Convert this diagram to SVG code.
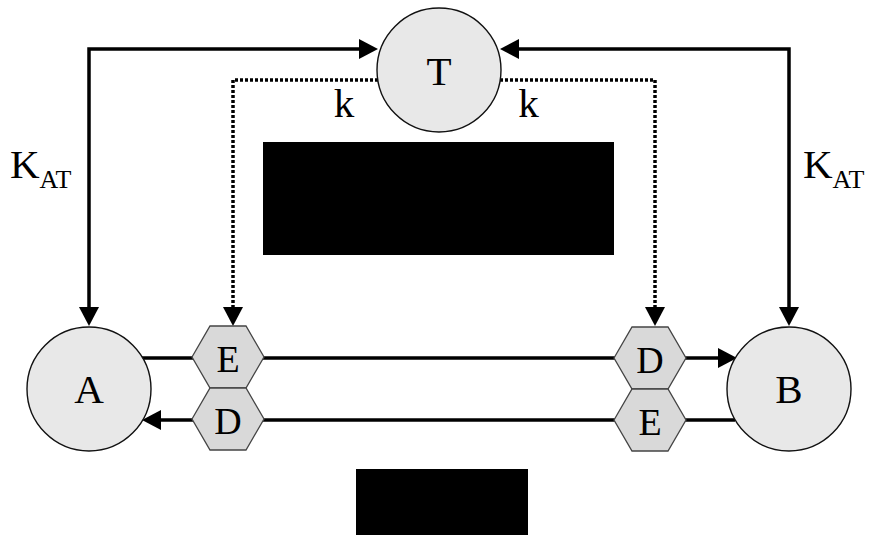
<svg xmlns="http://www.w3.org/2000/svg" width="871" height="535" viewBox="0 0 871 535">
  <style>
    .circ { fill: #e8e8e8; stroke: #111; stroke-width: 1.4; }
    .hex { fill: #d9d9d9; stroke: #444; stroke-width: 1.3; }
    .lbl { font-family: "Liberation Serif", "Times New Roman", serif; fill: #000; text-anchor: middle; }
    .big { font-size: 41px; }
    .mid { font-size: 38px; }
    .sub { font-size: 26px; }
    .solid { fill: none; stroke: #000; stroke-width: 3.5; }
    .dotted { fill: none; stroke: #000; stroke-width: 3.5; stroke-dasharray: 3 2; }
  </style>
  <defs>
    <marker id="arrow" viewBox="0 0 19 20" refX="0" refY="10" markerWidth="19" markerHeight="20" markerUnits="userSpaceOnUse" orient="auto-start-reverse">
      <path d="M0,0 L19,10 L0,20 z" fill="#000"/>
    </marker>
  </defs>
  <rect width="871" height="535" fill="#fff"/>

  <!-- connectors -->
  <g id="connectors">
    <path class="solid" d="M 359,49 H 89 V 307" marker-start="url(#arrow)" marker-end="url(#arrow)"/>
    <path class="solid" d="M 519,49 H 789 V 307" marker-start="url(#arrow)" marker-end="url(#arrow)"/>
    <path class="dotted" d="M 378,80 H 233 V 307" marker-end="url(#arrow)"/>
    <path class="dotted" d="M 500,80 H 655 V 307" marker-end="url(#arrow)"/>
    <path class="solid" d="M 142,358 H 718" marker-end="url(#arrow)"/>
    <path class="solid" d="M 735,420 H 161" marker-end="url(#arrow)"/>
  </g>

  <!-- rate labels -->
  <g id="labels">
    <text class="lbl big" x="10" y="178" style="text-anchor:start">K<tspan class="sub" dy="9.5">AT</tspan></text>
    <text class="lbl big" x="803" y="178" style="text-anchor:start">K<tspan class="sub" dy="9.5">AT</tspan></text>
    <text class="lbl big" x="344" y="116.5">k</text>
    <text class="lbl big" x="528.5" y="116.5">k</text>
  </g>

  <!-- masked blocks -->
  <rect x="263" y="142" width="351" height="113" fill="#000"/>
  <rect x="356" y="469" width="172" height="66" fill="#000"/>

  <g id="node-T">
    <circle class="circ" cx="439" cy="70" r="62"/>
    <text class="lbl big" x="439" y="85">T</text>
  </g>
  <g id="node-A">
    <circle class="circ" cx="89" cy="389" r="62"/>
    <text class="lbl big" x="89" y="403">A</text>
  </g>
  <g id="node-B">
    <circle class="circ" cx="789" cy="389" r="62"/>
    <text class="lbl big" x="789" y="403">B</text>
  </g>

  <g id="node-EA">
    <polygon class="hex" points="192,357 210,326 246,326 264,357 246,388 210,388"/>
    <text class="lbl mid" x="228" y="371.5">E</text>
  </g>
  <g id="node-DA">
    <polygon class="hex" points="192,419 210,388 246,388 264,419 246,450 210,450"/>
    <text class="lbl mid" x="228" y="433.5">D</text>
  </g>
  <g id="node-DB">
    <polygon class="hex" points="614,358 632,327 668,327 686,358 668,389 632,389"/>
    <text class="lbl mid" x="650" y="372.5">D</text>
  </g>
  <g id="node-EB">
    <polygon class="hex" points="614,420 632,389 668,389 686,420 668,451 632,451"/>
    <text class="lbl mid" x="650" y="434.5">E</text>
  </g>
</svg>
